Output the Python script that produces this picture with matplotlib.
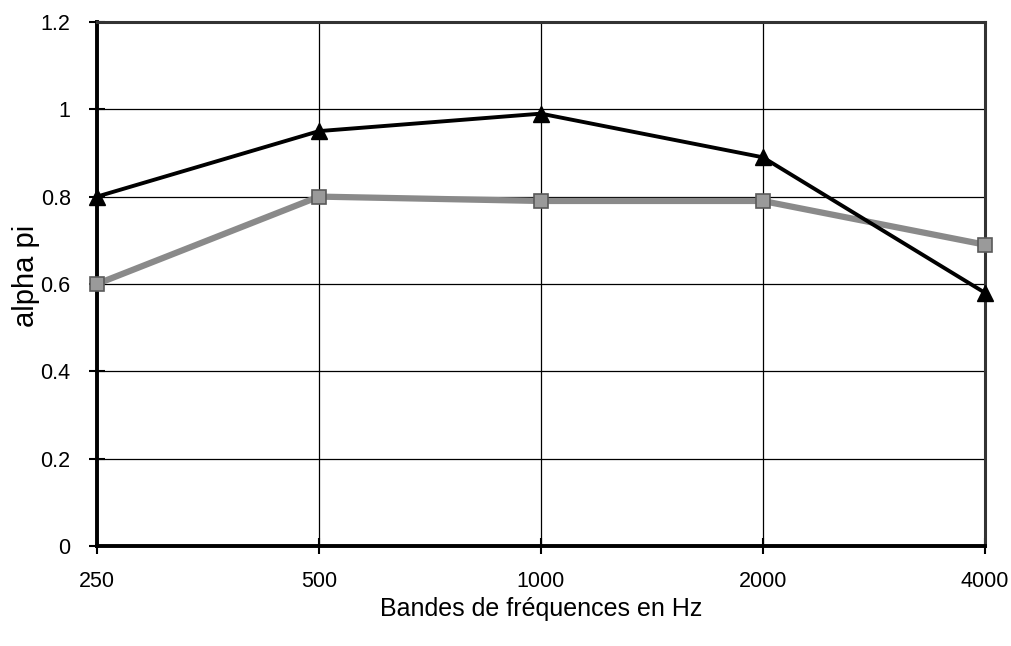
import matplotlib
matplotlib.use("Agg")
import matplotlib.pyplot as plt

plt.rcParams['font.family'] = ['Liberation Sans', 'DejaVu Sans']

bands = ['250', '500', '1000', '2000', '4000']
alpha_triangles = [0.80, 0.95, 0.99, 0.89, 0.58]
alpha_squares = [0.60, 0.80, 0.79, 0.79, 0.69]

x = list(range(len(bands)))

fig = plt.figure(figsize=(10.11, 6.46), dpi=100)
ax = fig.add_axes([0.096, 0.155, 0.878, 0.811])

ax.plot(x, alpha_squares, color='#8a8a8a', linewidth=4.5, marker='s',
        markersize=10, markerfacecolor='#9a9a9a', markeredgecolor='#5a5a5a',
        markeredgewidth=1.2, zorder=3, clip_on=False)
ax.plot(x, alpha_triangles, color='black', linewidth=2.8, marker='^',
        markersize=11, zorder=4, clip_on=False)

ax.set_xlim(0, 4)
ax.set_ylim(0, 1.2)
ax.set_xticks(x)
ax.set_xticklabels(bands)
ax.set_yticks([0, 0.2, 0.4, 0.6, 0.8, 1, 1.2])
ax.set_yticklabels(['0', '0.2', '0.4', '0.6', '0.8', '1', '1.2'])
ax.grid(True, color='black', linewidth=0.9)
ax.set_axisbelow(True)

for side in ['left', 'bottom']:
    ax.spines[side].set_linewidth(2.8)
for side in ['top', 'right']:
    ax.spines[side].set_linewidth(2.2)
    ax.spines[side].set_color('#333333')

ax.tick_params(axis='both', labelsize=15.5, direction='inout', length=12, width=1.5)
ax.tick_params(axis='x', pad=12)
ax.tick_params(axis='y', pad=13)
ax.set_xlabel('Bandes de fréquences en Hz', fontsize=18, labelpad=4)
ax.set_ylabel('alpha pi', fontsize=21)
ax.yaxis.set_label_coords(-0.064, 0.515)

fig.savefig('out.png', dpi=100)
